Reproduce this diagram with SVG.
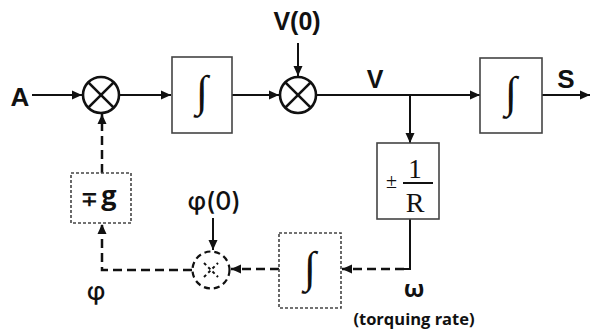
<svg xmlns="http://www.w3.org/2000/svg" width="592" height="332" viewBox="0 0 592 332">
<defs>
<marker id="ah" viewBox="0 0 10 10" refX="10" refY="5" markerWidth="10" markerHeight="10" markerUnits="userSpaceOnUse" orient="auto">
<path d="M0,0.5 L10,5 L0,9.5 z" fill="#111"/>
</marker>
</defs>
<style>
.lbl{font-family:"Liberation Sans",Arial,sans-serif;font-weight:bold;fill:#111;text-anchor:middle}
.cal{font-family:"Open Sans","Noto Sans",sans-serif;font-weight:bold;fill:#111;text-anchor:middle}
.phi{font-family:Inter,"Noto Sans",sans-serif;font-weight:500;fill:#111;text-anchor:middle}
.ser{font-family:"Liberation Serif","DejaVu Serif",serif;fill:#111;text-anchor:middle}
.box{fill:#fff;stroke:#444;stroke-width:1.6}
.dbox{fill:#fff;stroke:#444;stroke-width:1.6;stroke-dasharray:3 2}
.sum{fill:#fff;stroke:#111;stroke-width:2.6}
.x{stroke:#111;stroke-width:2.6}
.ln{fill:none;stroke:#111;stroke-width:2}
.dln{fill:none;stroke:#111;stroke-width:2.5;stroke-dasharray:9 5}
.int{font-family:"Liberation Serif","DejaVu Serif",serif;fill:#111;text-anchor:middle}
</style>
<g id="connectors">
<line class="ln" x1="32" y1="95" x2="82" y2="95" marker-end="url(#ah)"/>
<line class="ln" x1="120" y1="95" x2="171" y2="95" marker-end="url(#ah)"/>
<line class="ln" x1="232" y1="95" x2="279" y2="95" marker-end="url(#ah)"/>
<line class="ln" x1="298" y1="43" x2="298" y2="76" marker-end="url(#ah)"/>
<line class="ln" x1="316" y1="95" x2="480" y2="95" marker-end="url(#ah)"/>
<line class="ln" x1="410" y1="95" x2="410" y2="143" marker-end="url(#ah)"/>
<line class="ln" x1="542" y1="95" x2="590" y2="95" marker-end="url(#ah)"/>
<polyline class="ln" points="410,219 410,269 404,269"/>
<line class="dln" x1="404" y1="269" x2="342" y2="269" marker-end="url(#ah)"/>
<line class="dln" x1="279" y1="269" x2="231" y2="269" marker-end="url(#ah)"/>
<line class="ln" x1="213" y1="218" x2="213" y2="250" marker-end="url(#ah)"/>
<polyline class="dln" points="192,270 102,270 102,224" marker-end="url(#ah)"/>
<line class="dln" x1="102" y1="173" x2="102" y2="114" marker-end="url(#ah)"/>
</g>
<g id="sum1">
<circle class="sum" cx="101" cy="95" r="18"/>
<line class="x" x1="88.3" y1="82.3" x2="113.7" y2="107.7"/>
<line class="x" x1="88.3" y1="107.7" x2="113.7" y2="82.3"/>
</g>
<g id="int1">
<rect class="box" x="172" y="57" width="60" height="76"/>
<text class="int" x="202" y="106" font-size="44">∫</text>
</g>
<g id="sum2">
<circle class="sum" cx="298" cy="95" r="18"/>
<line class="x" x1="285.3" y1="82.3" x2="310.7" y2="107.7"/>
<line class="x" x1="285.3" y1="107.7" x2="310.7" y2="82.3"/>
</g>
<g id="int2">
<rect class="box" x="480" y="58" width="62" height="75"/>
<text class="int" x="511" y="107" font-size="44">∫</text>
</g>
<g id="gain">
<rect class="box" x="377" y="143" width="62" height="76"/>
<text class="ser" x="391.5" y="188" font-size="20">±</text>
<text class="ser" x="415" y="178" font-size="27">1</text>
<line x1="403" y1="183" x2="433" y2="183" stroke="#111" stroke-width="2"/>
<text class="ser" x="415" y="212" font-size="28">R</text>
</g>
<g id="int3">
<rect class="dbox" x="279" y="233" width="62" height="75"/>
<text class="int" x="310" y="282" font-size="44">∫</text>
</g>
<g id="sum3">
<circle cx="211" cy="270" r="18.5" fill="#fff" stroke="#111" stroke-width="2.2" stroke-dasharray="6 4"/>
<line x1="204" y1="263" x2="218" y2="277" stroke="#111" stroke-width="2" stroke-dasharray="3 3"/>
<line x1="204" y1="277" x2="218" y2="263" stroke="#111" stroke-width="2" stroke-dasharray="3 3"/>
</g>
<g id="gfb">
<rect class="dbox" x="71" y="173" width="60" height="50"/>
<text class="cal" x="89" y="206" font-size="20">∓</text>
<text class="cal" x="109" y="205" font-size="27">g</text>
</g>
<g id="labels">
<text class="lbl" x="20" y="106" font-size="26">A</text>
<text class="lbl" x="297" y="30" font-size="25">V(0)</text>
<text class="lbl" x="375" y="88" font-size="25">V</text>
<text class="lbl" x="566" y="88" font-size="26">S</text>
<text class="phi" x="214" y="210" font-size="25">φ(0)</text>
<text class="phi" x="96" y="300" font-size="25">φ</text>
<text class="cal" x="414" y="297" font-size="24">ω</text>
<text class="cal" x="414" y="325" font-size="16.5">(torquing rate)</text>
</g>
</svg>
